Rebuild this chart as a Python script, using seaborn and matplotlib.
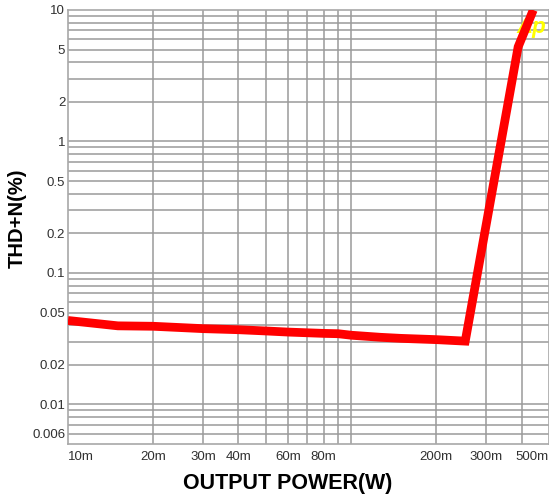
import numpy as np
import pandas as pd
import matplotlib
matplotlib.use("Agg")
import matplotlib.pyplot as plt
import seaborn as sns

# THD+N vs output power
power_w = [0.010, 0.015, 0.020, 0.030, 0.040, 0.050, 0.060, 0.080, 0.090,
           0.100, 0.127, 0.150, 0.200, 0.253, 0.389, 0.440]
thd_pct = [0.0435, 0.0396, 0.0393, 0.0377, 0.0370, 0.0362, 0.0355, 0.0347, 0.0345,
           0.0336, 0.0324, 0.0318, 0.0311, 0.0303, 5.24, 10.0]

x_tick_vals = [0.01, 0.02, 0.03, 0.04, 0.06, 0.08, 0.2, 0.3, 0.5]
x_tick_text = ["10m", "20m", "30m", "40m", "60m", "80m", "200m", "300m", "500m"]
y_tick_vals = [10, 5, 2, 1, 0.5, 0.2, 0.1, 0.05, 0.02, 0.01, 0.006]
y_tick_text = ["10", "5", "2", "1", "0.5", "0.2", "0.1", "0.05", "0.02", "0.01", "0.006"]

df = pd.DataFrame({"power": power_w, "thd": thd_pct})

sns.set_style("white")
plt.rcParams["font.family"] = ["Liberation Sans", "DejaVu Sans"]

W, H = 549, 497
fig = plt.figure(figsize=(W / 100, H / 100), dpi=100)
ax = fig.add_axes([68 / W, 1 - 444 / H, (W - 68) / W, (444 - 10) / H])

ax.set_xscale("log")
ax.set_yscale("log")
ax.set_xlim(0.01, 0.5)
ax.set_ylim(0.005, 10)

# grid lines at every 1..9 step of each decade
grid_col = "#9a9a9a"
for d in [0.01, 0.1]:
    for m in range(1, 10):
        v = d * m
        if 0.01 < v < 0.5:
            ax.axvline(v, color=grid_col, lw=1.1, zorder=1)
for d in [0.001, 0.01, 0.1, 1]:
    for m in range(1, 10):
        v = d * m
        if 0.005 < v <= 10:
            ax.axhline(v, color=grid_col, lw=1.1, zorder=1)

# Ap logo behind the trace
ax.text(0.995, 0.985, "Ap", transform=ax.transAxes, ha="right", va="top",
        color="#ffff00", fontsize=16, fontweight="bold", fontstyle="italic", zorder=2)

sns.lineplot(data=df, x="power", y="thd", ax=ax, color="#ff0000", lw=6.3,
             solid_joinstyle="miter", solid_capstyle="butt", zorder=3)
ax.set_xlabel("")
ax.set_ylabel("")

ax.xaxis.set_minor_locator(matplotlib.ticker.NullLocator())
ax.yaxis.set_minor_locator(matplotlib.ticker.NullLocator())
ax.set_xticks(x_tick_vals, x_tick_text)
ax.set_yticks(y_tick_vals, y_tick_text)
ax.tick_params(axis="both", length=0, labelsize=9.5, labelcolor="#303030")
ax.tick_params(axis="x", pad=5)
ax.tick_params(axis="y", pad=2)
xl = ax.get_xticklabels()
xl[0].set_ha("left")
xl[-1].set_ha("right")

for s in ax.spines.values():
    s.set_color("#a8a8a8")
    s.set_linewidth(1.2)

fig.text(288 / W, 1 - 483 / H, "OUTPUT POWER(W)", ha="center", va="center",
         fontsize=15.5, fontweight="bold", color="black")
fig.text(17 / W, 1 - 218 / H, "THD+N(%)", ha="center", va="center", rotation=90,
         fontsize=14.5, fontweight="bold", color="black")

fig.savefig("out.png", dpi=100, facecolor="white")
